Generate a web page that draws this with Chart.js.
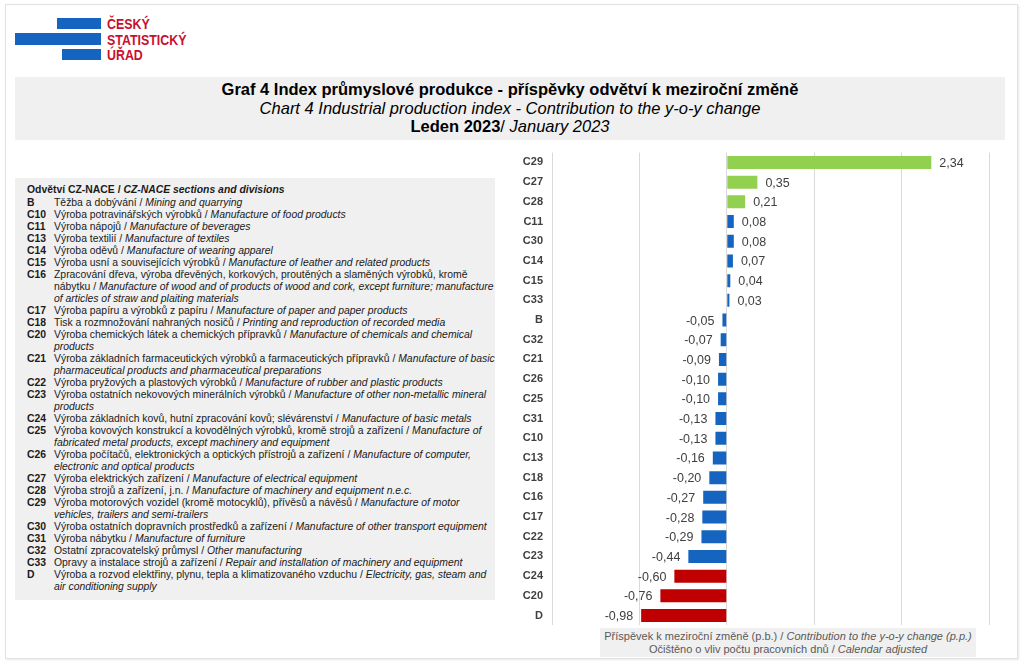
<!DOCTYPE html>
<html>
<head>
<meta charset="utf-8">
<script src="https://cdn.jsdelivr.net/npm/chart.js@4.4.1/dist/chart.umd.min.js"></script>
<style>
  html, body { margin: 0; padding: 0; background: #fff; }
  body { width: 1024px; height: 665px; position: relative; overflow: hidden; font-family: "Liberation Sans", Arial, sans-serif; }
  #frame { position: absolute; left: 5px; top: 4px; width: 1011px; height: 653px; border: 1px solid #e2e2e2; box-shadow: 1px 1px 2px #e8e8e8; }
  .logo-bar { position: absolute; background: #1565c0; height: 11px; }
  #logo-text { position: absolute; left: 107px; top: 16px; color: #c8102e; font-weight: bold; font-size: 15.5px; line-height: 15.5px; transform: scaleX(0.8); transform-origin: 0 0; }
  #title { position: absolute; left: 15px; top: 77px; width: 990px; height: 63px; background: #f0f0f0; text-align: center; font-size: 16.5px; line-height: 18.5px; color: #000; padding-top: 3px; box-sizing: border-box; }
  #legend { position: absolute; left: 15px; top: 178px; width: 480px; height: 422px; background: #f0f0f0; padding: 6px 0 0 12px; box-sizing: border-box; font-size: 10.4px; line-height: 12px; color: #1a1a1a; }
  #legend .row { display: flex; white-space: pre; }
  #legend .code { width: 27px; font-weight: bold; flex: none; }
  #legend .head { font-weight: bold; margin-bottom: 1px; }
  #chartBox { position: absolute; left: 505px; top: 137px; width: 500px; height: 504px; }
  #caption { position: absolute; left: 600px; top: 628px; width: 376px; height: 29px; background: #f0f0f0; text-align: center; font-size: 11px; line-height: 13px; color: #595959; padding-top: 2px; box-sizing: border-box; }
</style>
</head>
<body>
<div id="frame"></div>
<div class="logo-bar" style="left:57px;top:18px;width:44px"></div>
<div class="logo-bar" style="left:15px;top:33px;width:86px;height:12px"></div>
<div class="logo-bar" style="left:62px;top:49px;width:39px"></div>
<div id="logo-text">ČESKÝ<br>STATISTICKÝ<br>ÚŘAD</div>

<div id="title">
  <b>Graf 4 Index průmyslové produkce - příspěvky odvětví k meziroční změně</b><br>
  <i>Chart 4 Industrial production index - Contribution to the y-o-y change</i><br>
  <b>Leden 2023</b>/ <i>January 2023</i>
</div>

<div id="legend"></div>

<div id="chartBox"><canvas id="chart"></canvas></div>

<div id="caption">
  Příspěvek k meziroční změně (p.b.) / <i>Contribution to the y-o-y change (p.p.)</i><br>
  Očištěno o vliv počtu pracovních dnů / <i>Calendar adjusted</i>
</div>

<script>
// kategorie a hodnoty (p.b.)
const categories = ["C29", "C27", "C28", "C11", "C30", "C14", "C15", "C33", "B", "C32", "C21", "C26",
  "C25", "C31", "C10", "C13", "C18", "C16", "C17", "C22", "C23", "C24", "C20", "D"];
const values = [2.34, 0.35, 0.21, 0.08, 0.08, 0.07, 0.04, 0.03, -0.05, -0.07, -0.09, -0.10,
  -0.10, -0.13, -0.13, -0.16, -0.20, -0.27, -0.28, -0.29, -0.44, -0.60, -0.76, -0.98];
const xTicks = [-2, -1, 0, 1, 2, 3];

// legenda odvětví
const legendCodes = ["B", "C10", "C11", "C13", "C14", "C15", "C16", "C17", "C18", "C20", "C21", "C22",
  "C23", "C24", "C25", "C26", "C27", "C28", "C29", "C30", "C31", "C32", "C33", "D"];
const legendCz = [
  "Těžba a dobývání",
  "Výroba potravinářských výrobků",
  "Výroba nápojů",
  "Výroba textilií",
  "Výroba oděvů",
  "Výroba usní a souvisejících výrobků",
  "Zpracování dřeva, výroba dřevěných, korkových, proutěných a slaměných výrobků, kromě\nnábytku",
  "Výroba papíru a výrobků z papíru",
  "Tisk a rozmnožování nahraných nosičů",
  "Výroba chemických látek a chemických přípravků",
  "Výroba základních farmaceutických výrobků a farmaceutických přípravků",
  "Výroba pryžových a plastových výrobků",
  "Výroba ostatních nekovových minerálních výrobků",
  "Výroba základních kovů, hutní zpracování kovů; slévárenství",
  "Výroba kovových konstrukcí a kovodělných výrobků, kromě strojů a zařízení",
  "Výroba počítačů, elektronických a optických přístrojů a zařízení",
  "Výroba elektrických zařízení",
  "Výroba strojů a zařízení, j.n.",
  "Výroba motorových vozidel (kromě motocyklů), přívěsů a návěsů",
  "Výroba ostatních dopravních prostředků a zařízení",
  "Výroba nábytku",
  "Ostatní zpracovatelský průmysl",
  "Opravy a instalace strojů a zařízení",
  "Výroba a rozvod elektřiny, plynu, tepla a klimatizovaného vzduchu"
];
const legendEn = [
  "Mining and quarrying",
  "Manufacture of food products",
  "Manufacture of beverages",
  "Manufacture of textiles",
  "Manufacture of wearing apparel",
  "Manufacture of leather and related products",
  "Manufacture of wood and of products of wood and cork, except furniture; manufacture\nof articles of straw and plaiting materials",
  "Manufacture of paper and paper products",
  "Printing and reproduction of recorded media",
  "Manufacture of chemicals and chemical\nproducts",
  "Manufacture of basic\npharmaceutical products and pharmaceutical preparations",
  "Manufacture of rubber and plastic products",
  "Manufacture of other non-metallic mineral\nproducts",
  "Manufacture of basic metals",
  "Manufacture of\nfabricated metal products, except machinery and equipment",
  "Manufacture of computer,\nelectronic and optical products",
  "Manufacture of electrical equipment",
  "Manufacture of machinery and equipment n.e.c.",
  "Manufacture of motor\nvehicles, trailers and semi-trailers",
  "Manufacture of other transport equipment",
  "Manufacture of furniture",
  "Other manufacturing",
  "Repair and installation of machinery and equipment",
  "Electricity, gas, steam and\nair conditioning supply"
];

const legend = document.getElementById("legend");
legend.innerHTML = '<div class="head">Odvětví CZ-NACE / <i>CZ-NACE sections and divisions</i></div>';
legendCodes.forEach((code, i) => {
  const row = document.createElement("div");
  row.className = "row";
  row.innerHTML = '<span class="code">' + code + '</span><span>' + legendCz[i] + ' / <i>' + legendEn[i] + '</i></span>';
  legend.appendChild(row);
});

// barvy: 3 nejvyšší zeleně, 3 nejnižší červeně
const barColor = (ctx) => {
  if (ctx.dataIndex < 3) return "#92d050";
  if (ctx.dataIndex >= values.length - 3) return "#c00000";
  return "#1565c0";
};

// popisky hodnot
const valueLabels = {
  id: "valueLabels",
  afterDatasetsDraw(chart) {
    const { ctx } = chart;
    const meta = chart.getDatasetMeta(0);
    ctx.save();
    ctx.font = '12.5px "Liberation Sans", Arial, sans-serif';
    ctx.fillStyle = "#404040";
    ctx.textBaseline = "middle";
    meta.data.forEach((bar, i) => {
      const v = values[i];
      const text = v.toFixed(2).replace(".", ",");
      if (v >= 0) {
        ctx.textAlign = "left";
        ctx.fillText(text, bar.x + 8, bar.y + 1);
      } else {
        ctx.textAlign = "right";
        ctx.fillText(text, bar.x - 8, bar.y + 1);
      }
    });
    ctx.restore();
  },
};

new Chart(document.getElementById("chart").getContext("2d"), {
  type: "bar",
  data: {
    labels: categories,
    datasets: [
      {
        data: values,
        backgroundColor: barColor,
        borderWidth: 0,
        categoryPercentage: 1,
        barPercentage: 0.66,
      },
    ],
  },
  options: {
    indexAxis: "y",
    responsive: true,
    maintainAspectRatio: false,
    animation: false,
    layout: { padding: { top: 6, right: 16, bottom: 5, left: 0 } },
    plugins: {
      legend: { display: false },
      tooltip: { enabled: false },
    },
    scales: {
      x: {
        min: xTicks[0],
        max: xTicks[xTicks.length - 1],
        afterBuildTicks: (scale) => { scale.ticks = xTicks.map((v) => ({ value: v })); },
        ticks: { display: false },
        grid: { color: "#d9d9d9", lineWidth: 1, drawTicks: false },
        border: { display: false },
        afterFit: (scale) => { scale.height = 0; },
      },
      y: {
        ticks: {
          color: "#404040",
          font: { family: '"Liberation Sans", Arial, sans-serif', size: 11, weight: "bold" },
          padding: 9,
        },
        grid: { display: false, drawTicks: false },
        border: { display: false },
        afterFit: (scale) => { scale.width = 47; },
      },
    },
  },
  plugins: [valueLabels],
});
</script>
</body>
</html>
